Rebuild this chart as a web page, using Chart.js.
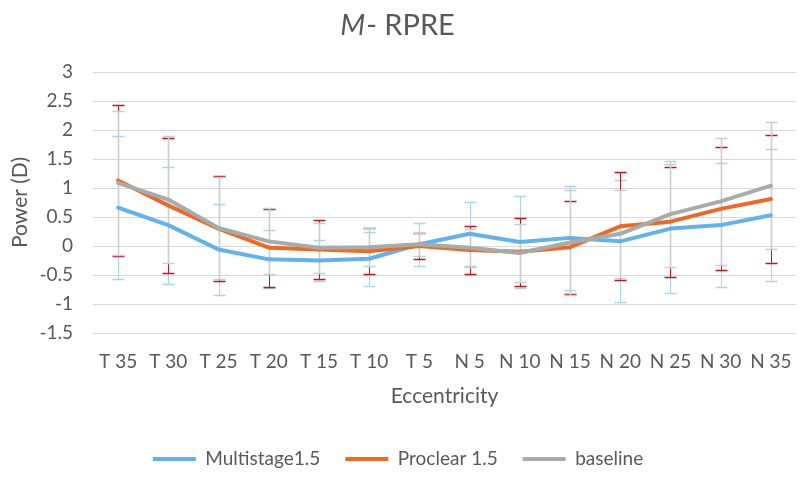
<!DOCTYPE html>
<html>
<head>
<meta charset="utf-8">
<script src="https://cdn.jsdelivr.net/npm/chart.js@4.4.1/dist/chart.umd.min.js"></script>
<style>
  html, body { margin: 0; padding: 0; background: #ffffff; }
  #wrap { position: relative; width: 810px; height: 481px; }
</style>
</head>
<body>
<div id="wrap"><canvas id="c" width="810" height="481"></canvas></div>
<script>
const categories = ['T 35','T 30','T 25','T 20','T 15','T 10','T 5','N 5','N 10','N 15','N 20','N 25','N 30','N 35'];
const multistage = [0.66, 0.36, -0.06, -0.23, -0.25, -0.22, 0.03, 0.21, 0.07, 0.14, 0.08, 0.30, 0.36, 0.53];
const proclear   = [1.13, 0.70, 0.30, -0.03, -0.06, -0.09, 0.00, -0.07, -0.10, -0.02, 0.34, 0.42, 0.64, 0.81];
const baseline   = [1.09, 0.80, 0.31, 0.08, -0.03, -0.02, 0.03, -0.03, -0.12, 0.06, 0.21, 0.55, 0.77, 1.04];
const multistageErr = [1.23, 1.01, 0.79, 0.50, 0.35, 0.47, 0.37, 0.55, 0.80, 0.90, 1.05, 1.11, 1.07, 1.14];
const proclearErr   = [1.30, 1.16, 0.91, 0.67, 0.51, 0.40, 0.23, 0.42, 0.59, 0.80, 0.93, 0.95, 1.06, 1.10];
const baselineErr   = [1.24, 1.09, 0.88, 0.57, 0.43, 0.33, 0.20, 0.33, 0.50, 0.90, 0.76, 0.91, 1.10, 1.09];
const yTicks = [-1.5, -1, -0.5, 0, 0.5, 1, 1.5, 2, 2.5, 3];
const seriesNames = ['Multistage1.5', 'Proclear 1.5', 'baseline'];

const TEXT = '#595959';
const FONT = 'Lato, "Open Sans", sans-serif';

// error bars drawn blue first, then red, then grey on top
const errorBarPlugin = {
  id: 'errorBars',
  beforeDatasetsDraw(chart) {
    const ctx = chart.ctx;
    const xs = chart.scales.x, ys = chart.scales.y;
    ctx.save();
    chart.data.datasets.forEach(ds => {
      const errs = ds.errors;
      ds.data.forEach((v, i) => {
        const x = Math.round(xs.getPixelForValue(i)) + 0.5;
        const yt = Math.round(ys.getPixelForValue(v + errs[i])) + 0.5;
        const yb = Math.round(ys.getPixelForValue(v - errs[i])) + 0.5;
        const hw = 6;
        ctx.strokeStyle = ds.errorColor;
        ctx.lineWidth = ds.errorStem;
        ctx.beginPath();
        ctx.moveTo(x, yt); ctx.lineTo(x, yb);
        ctx.stroke();
        ctx.lineWidth = 1.6;
        ctx.beginPath();
        ctx.moveTo(x - hw, yt); ctx.lineTo(x + hw, yt);
        ctx.moveTo(x - hw, yb); ctx.lineTo(x + hw, yb);
        ctx.stroke();
      });
    });
    ctx.restore();
  }
};

const titlePlugin = {
  id: 'mixedTitle',
  afterDraw(chart) {
    const ctx = chart.ctx;
    ctx.save();
    ctx.fillStyle = TEXT;
    ctx.textBaseline = 'alphabetic';
    const italic = 'italic 29px ' + FONT;
    const normal = '29px ' + FONT;
    ctx.font = italic;
    const w1 = ctx.measureText('M').width;
    ctx.font = normal;
    const w2 = ctx.measureText('- RPRE').width;
    const cx = chart.width / 2 - 8;
    const x0 = cx - (w1 + w2) / 2;
    const y = 35;
    ctx.font = italic;
    ctx.fillText('M', x0, y);
    ctx.font = normal;
    ctx.fillText('- RPRE', x0 + w1 + 1, y);
    ctx.restore();
  }
};

new Chart(document.getElementById('c'), {
  type: 'line',
  data: {
    labels: categories,
    datasets: [
      { label: seriesNames[0], data: multistage, errors: multistageErr, errorColor: '#a9d6ef', errorStem: 1,
        borderColor: '#62b2f0', backgroundColor: '#62b2f0', borderWidth: 4, pointRadius: 0, tension: 0, order: 3 },
      { label: seriesNames[1], data: proclear, errors: proclearErr, errorColor: '#c4161c', errorStem: 1,
        borderColor: '#ee6a24', backgroundColor: '#ee6a24', borderWidth: 4, pointRadius: 0, tension: 0, order: 2 },
      { label: seriesNames[2], data: baseline, errors: baselineErr, errorColor: '#c9cdcd', errorStem: 1.6,
        borderColor: '#a6acaa', backgroundColor: '#a6acaa', borderWidth: 4, pointRadius: 0, tension: 0, order: 1 }
    ]
  },
  options: {
    responsive: false,
    animation: false,
    devicePixelRatio: 1,
    layout: { padding: { top: 72, right: 14, bottom: 6.5, left: 0 } },
    elements: { line: { borderJoinStyle: 'round', borderCapStyle: 'round' } },
    scales: {
      x: {
        offset: true,
        grid: { display: false, drawTicks: false },
        border: { display: false },
        ticks: { color: TEXT, font: { family: FONT, size: 19 }, padding: 17, maxRotation: 0, autoSkip: false },
        title: { display: true, text: 'Eccentricity', color: TEXT, font: { family: FONT, size: 21 }, padding: { top: 0, bottom: 16 } },
        afterFit(s) { s.height = 91.5; }
      },
      y: {
        min: -1.5, max: 3,
        afterBuildTicks(s) { s.ticks = yTicks.map(v => ({ value: v })); },
        grid: { color: '#d9d9d9', lineWidth: 1, drawTicks: false },
        border: { display: false },
        ticks: { color: TEXT, font: { family: FONT, size: 19 }, padding: 20, callback: v => String(v) },
        title: { display: true, text: 'Power (D)', color: TEXT, font: { family: FONT, size: 21 }, padding: { top: 8, bottom: 0 } },
        afterFit(s) { s.width = 93; }
      }
    },
    plugins: {
      title: { display: false },
      tooltip: { enabled: false },
      legend: {
        position: 'bottom',
        maxHeight: 50,
        labels: {
          color: TEXT,
          font: { family: FONT, size: 19 },
          boxWidth: 43,
          boxHeight: 4,
          padding: 25,
          generateLabels(chart) {
            return chart.data.datasets.map((ds, i) => ({
              text: ds.label,
              fillStyle: ds.borderColor,
              strokeStyle: ds.borderColor,
              lineWidth: 0,
              hidden: false,
              datasetIndex: i,
              fontColor: TEXT
            }));
          }
        }
      }
    }
  },
  plugins: [errorBarPlugin, titlePlugin]
});
</script>
</body>
</html>
